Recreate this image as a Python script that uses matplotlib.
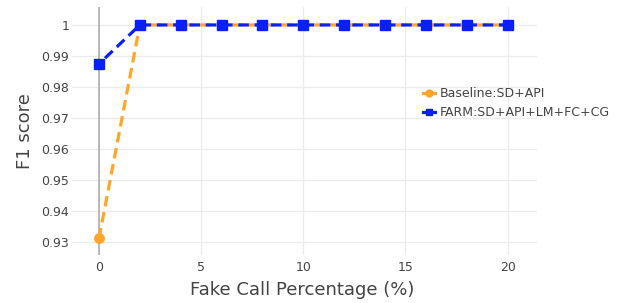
import matplotlib
matplotlib.use("Agg")
import matplotlib.pyplot as plt
from matplotlib.lines import Line2D

# data
fake_pct = [0, 2, 4, 6, 8, 10, 12, 14, 16, 18, 20]
baseline_f1 = [0.931, 1, 1, 1, 1, 1, 1, 1, 1, 1, 1]
farm_f1 = [0.9874, 1, 1, 1, 1, 1, 1, 1, 1, 1, 1]
yticks = [0.93, 0.94, 0.95, 0.96, 0.97, 0.98, 0.99, 1]
ytick_labels = ["0.93", "0.94", "0.95", "0.96", "0.97", "0.98", "0.99", "1"]
xticks = [0, 5, 10, 15, 20]

plt.rcParams['font.family'] = ['DejaVu Sans']

fig = plt.figure(figsize=(6.23, 3.03), dpi=100)
ax = fig.add_axes([0.1156, 0.1584, 0.862 - 0.1156, 0.9769 - 0.1584])

ax.plot(fake_pct, baseline_f1, color='#ffa629', lw=2.3, ls=(0, (3.3, 1.8)),
        marker='o', ms=6.8, mec='#ffa629', mfc='#ffa629', zorder=3)
ax.plot(fake_pct, farm_f1, color='#0a1fff', lw=2.3, ls=(2.5, (3.3, 1.8)),
        marker='s', ms=6.8, mec='#0a1fff', mfc='#0a1fff', zorder=4)

ax.set_xlim(-1.32, 21.44)
ax.set_ylim(0.92564, 1.0058)
ax.set_xticks(xticks)
ax.set_yticks(yticks)
ax.set_yticklabels(ytick_labels)
ax.grid(True, color='#ececec', lw=0.9)
ax.set_axisbelow(True)
ax.axvline(0, color='#a8a8a8', lw=1.1, zorder=2)
for s in ax.spines.values():
    s.set_visible(False)
ax.tick_params(length=0, labelsize=9, colors='#444444')
ax.tick_params(axis='y', pad=2)
ax.tick_params(axis='x', pad=4)

ax.set_xlabel('Fake Call Percentage (%)', fontsize=13, color='#444444')
ax.set_ylabel('F1 score', fontsize=13, color='#444444')
ax.xaxis.set_label_coords(0.495, -0.141)
ax.yaxis.set_label_coords(-0.101, 0.5)
ax.xaxis.label.set_va('center')
ax.yaxis.label.set_va('center')

# legend handles: short solid stub with a small marker
handles = [
    Line2D([0], [0], color='#ffa629', lw=2.3, marker='o', ms=5),
    Line2D([0], [0], color='#0a1fff', lw=2.3, marker='s', ms=5),
]
leg = ax.legend(handles, ['Baseline:SD+API', 'FARM:SD+API+LM+FC+CG'],
                loc='upper left', bbox_to_anchor=(0.73, 0.722), frameon=False,
                fontsize=9, labelcolor='#444444', handlelength=1.0,
                handletextpad=0.4, labelspacing=0.5, numpoints=1)

fig.savefig('out.png', dpi=100)
